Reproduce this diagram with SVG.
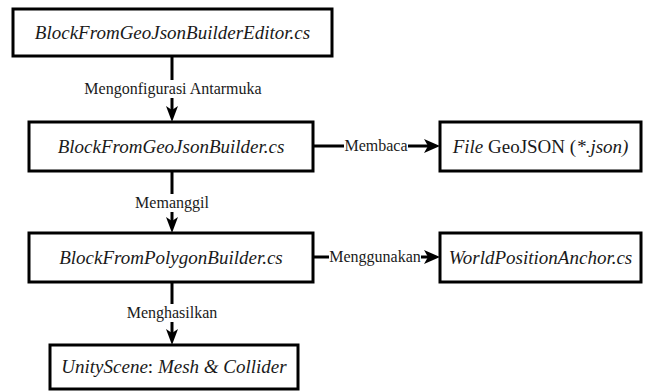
<svg xmlns="http://www.w3.org/2000/svg" width="653" height="392" viewBox="0 0 653 392">
<rect width="653" height="392" fill="#fff"/>
<g id="connectors">
<path stroke="#000" stroke-width="3" fill="none" d="M172,56 V110"/>
<path fill="#000" d="M166,106 L172,122 L178,106 L172,110 Z"/>
<path stroke="#000" stroke-width="3" fill="none" d="M313,146 H428"/>
<path fill="#000" d="M424,139 L440,146 L424,153 L428,146 Z"/>
<path stroke="#000" stroke-width="3" fill="none" d="M172,171 V221"/>
<path fill="#000" d="M166,217 L172,233 L178,217 L172,221 Z"/>
<path stroke="#000" stroke-width="3" fill="none" d="M313,257 H428"/>
<path fill="#000" d="M424,250 L440,257 L424,264 L428,257 Z"/>
<path stroke="#000" stroke-width="3" fill="none" d="M172,282 V333"/>
<path fill="#000" d="M166,329 L172,345 L178,329 L172,333 Z"/>
<rect fill="#fff" x="83" y="80" width="180" height="18"/>
<rect fill="#fff" x="344" y="137" width="64" height="18"/>
<rect fill="#fff" x="135" y="194" width="75" height="18"/>
<rect fill="#fff" x="329" y="248" width="92" height="18"/>
<rect fill="#fff" x="127" y="304" width="92" height="18"/>
<text font-family="Liberation Serif" font-size="16" fill="#1a1a1a" text-anchor="middle" x="173" y="94">Mengonfigurasi Antarmuka</text>
<text font-family="Liberation Serif" font-size="16" fill="#1a1a1a" text-anchor="middle" x="376" y="151">Membaca</text>
<text font-family="Liberation Serif" font-size="16" fill="#1a1a1a" text-anchor="middle" x="172" y="208">Memanggil</text>
<text font-family="Liberation Serif" font-size="16" fill="#1a1a1a" text-anchor="middle" x="375" y="262">Menggunakan</text>
<text font-family="Liberation Serif" font-size="16" fill="#1a1a1a" text-anchor="middle" x="172" y="318">Menghasilkan</text>
</g>
<g id="n1"><rect fill="#fff" stroke="#000" stroke-width="3" x="13" y="9" width="319" height="47"/><text font-family="Liberation Serif" font-size="19" font-style="italic" fill="#1a1a1a" text-anchor="middle" x="172.5" y="39">BlockFromGeoJsonBuilderEditor.cs</text></g>
<g id="n2"><rect fill="#fff" stroke="#000" stroke-width="3" x="29" y="122" width="284" height="49"/><text font-family="Liberation Serif" font-size="19" font-style="italic" fill="#1a1a1a" text-anchor="middle" x="171" y="153">BlockFromGeoJsonBuilder.cs</text></g>
<g id="n3"><rect fill="#fff" stroke="#000" stroke-width="3" x="440" y="122" width="201" height="49"/><text font-family="Liberation Serif" font-size="19" font-style="italic" fill="#1a1a1a" text-anchor="middle" x="540.5" y="153">File<tspan font-style="normal"> GeoJSON (</tspan>*.json)</text></g>
<g id="n4"><rect fill="#fff" stroke="#000" stroke-width="3" x="29" y="233" width="284" height="49"/><text font-family="Liberation Serif" font-size="19" font-style="italic" fill="#1a1a1a" text-anchor="middle" x="171" y="264">BlockFromPolygonBuilder.cs</text></g>
<g id="n5"><rect fill="#fff" stroke="#000" stroke-width="3" x="440" y="233" width="201" height="49"/><text font-family="Liberation Serif" font-size="19" font-style="italic" fill="#1a1a1a" text-anchor="middle" x="540.5" y="264">WorldPositionAnchor.cs</text></g>
<g id="n6"><rect fill="#fff" stroke="#000" stroke-width="3" x="50" y="345" width="248" height="44"/><text font-family="Liberation Serif" font-size="19" font-style="italic" fill="#1a1a1a" text-anchor="middle" x="174" y="373">UnityScene<tspan font-style="normal">:</tspan> Mesh &amp; Collider</text></g>
</svg>
